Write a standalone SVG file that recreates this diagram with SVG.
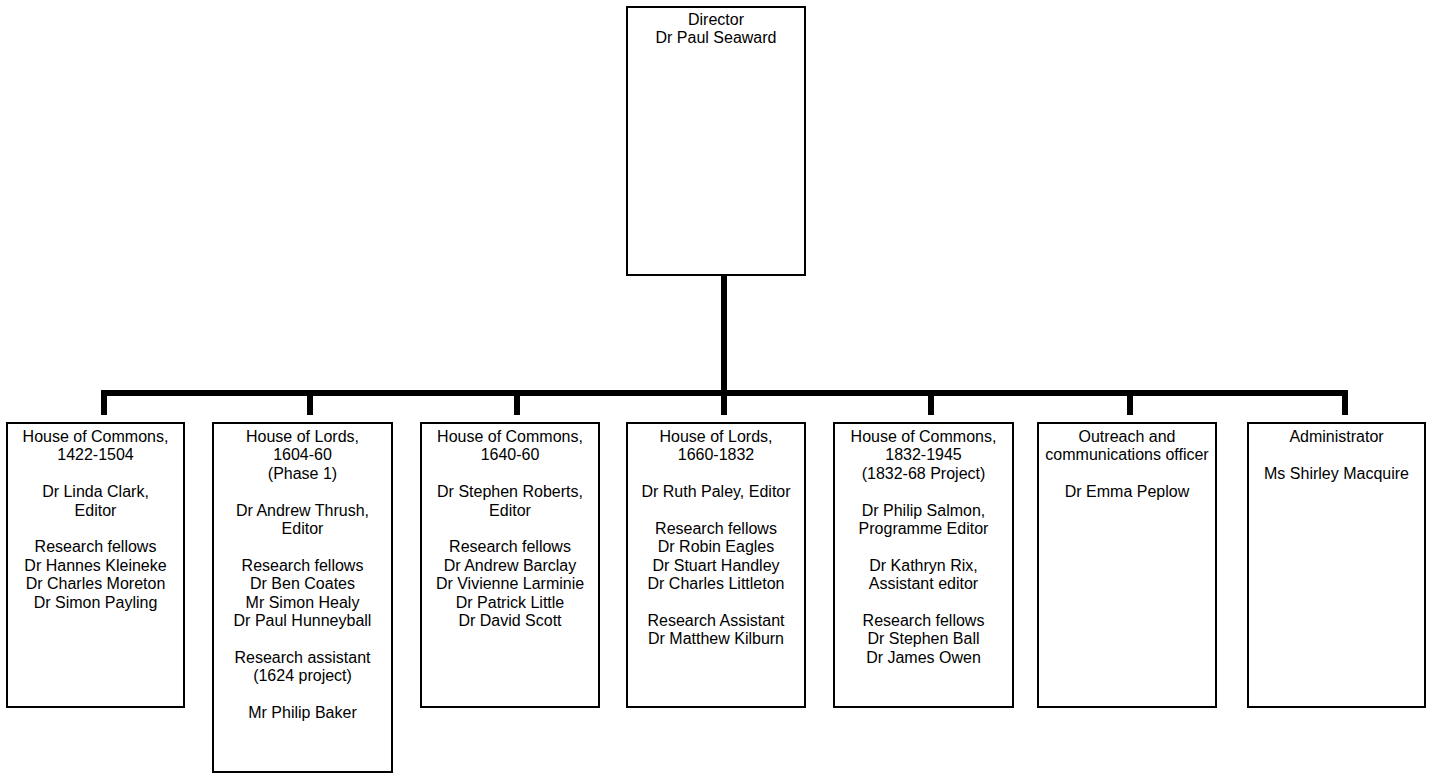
<svg xmlns="http://www.w3.org/2000/svg" width="1432" height="776" viewBox="0 0 1432 776">
<style>
.box{fill:#fff;stroke:#000;stroke-width:2}
.t{font-family:"Liberation Sans",Arial,sans-serif;font-size:16px;fill:#000;text-anchor:middle}
.c{fill:none;stroke:#000;stroke-width:6;stroke-linejoin:miter}
</style>
<rect width="1432" height="776" fill="#fff"/>
<g id="connectors">
<path class="c" d="M724 275 V393"/>
<path class="c" d="M104 415 V393 H1345 V415"/>
<path class="c" d="M310 393 V415"/>
<path class="c" d="M517 393 V415"/>
<path class="c" d="M724 393 V415"/>
<path class="c" d="M931 393 V415"/>
<path class="c" d="M1130 393 V415"/>
</g>
<g id="director">
<rect class="box" x="627" y="7" width="178" height="268"/>
<text class="t" x="716" y="25"><tspan x="716">Director</tspan><tspan x="716" dy="18.4">Dr Paul Seaward</tspan></text>
</g>
<g id="commons-1422">
<rect class="box" x="7" y="423" width="177" height="284"/>
<text class="t" x="95.5" y="442"><tspan x="95.5">House of Commons,</tspan><tspan x="95.5" dy="18.4">1422-1504</tspan><tspan x="95.5" dy="36.8">Dr Linda Clark,</tspan><tspan x="95.5" dy="18.4">Editor</tspan><tspan x="95.5" dy="36.8">Research fellows</tspan><tspan x="95.5" dy="18.4">Dr Hannes Kleineke</tspan><tspan x="95.5" dy="18.4">Dr Charles Moreton</tspan><tspan x="95.5" dy="18.4">Dr Simon Payling</tspan></text>
</g>
<g id="lords-1604">
<rect class="box" x="213" y="423" width="179" height="349"/>
<text class="t" x="302.5" y="442"><tspan x="302.5">House of Lords,</tspan><tspan x="302.5" dy="18.4">1604-60</tspan><tspan x="302.5" dy="18.4">(Phase 1)</tspan><tspan x="302.5" dy="36.8">Dr Andrew Thrush,</tspan><tspan x="302.5" dy="18.4">Editor</tspan><tspan x="302.5" dy="36.8">Research fellows</tspan><tspan x="302.5" dy="18.4">Dr Ben Coates</tspan><tspan x="302.5" dy="18.4">Mr Simon Healy</tspan><tspan x="302.5" dy="18.4">Dr Paul Hunneyball</tspan><tspan x="302.5" dy="36.8">Research assistant</tspan><tspan x="302.5" dy="18.4">(1624 project)</tspan><tspan x="302.5" dy="36.8">Mr Philip Baker</tspan></text>
</g>
<g id="commons-1640">
<rect class="box" x="421" y="423" width="178" height="284"/>
<text class="t" x="510" y="442"><tspan x="510">House of Commons,</tspan><tspan x="510" dy="18.4">1640-60</tspan><tspan x="510" dy="36.8">Dr Stephen Roberts,</tspan><tspan x="510" dy="18.4">Editor</tspan><tspan x="510" dy="36.8">Research fellows</tspan><tspan x="510" dy="18.4">Dr Andrew Barclay</tspan><tspan x="510" dy="18.4">Dr Vivienne Larminie</tspan><tspan x="510" dy="18.4">Dr Patrick Little</tspan><tspan x="510" dy="18.4">Dr David Scott</tspan></text>
</g>
<g id="lords-1660">
<rect class="box" x="627" y="423" width="178" height="284"/>
<text class="t" x="716" y="442"><tspan x="716">House of Lords,</tspan><tspan x="716" dy="18.4">1660-1832</tspan><tspan x="716" dy="36.8">Dr Ruth Paley, Editor</tspan><tspan x="716" dy="36.8">Research fellows</tspan><tspan x="716" dy="18.4">Dr Robin Eagles</tspan><tspan x="716" dy="18.4">Dr Stuart Handley</tspan><tspan x="716" dy="18.4">Dr Charles Littleton</tspan><tspan x="716" dy="36.8">Research Assistant</tspan><tspan x="716" dy="18.4">Dr Matthew Kilburn</tspan></text>
</g>
<g id="commons-1832">
<rect class="box" x="834" y="423" width="179" height="284"/>
<text class="t" x="923.5" y="442"><tspan x="923.5">House of Commons,</tspan><tspan x="923.5" dy="18.4">1832-1945</tspan><tspan x="923.5" dy="18.4">(1832-68 Project)</tspan><tspan x="923.5" dy="36.8">Dr Philip Salmon,</tspan><tspan x="923.5" dy="18.4">Programme Editor</tspan><tspan x="923.5" dy="36.8">Dr Kathryn Rix,</tspan><tspan x="923.5" dy="18.4">Assistant editor</tspan><tspan x="923.5" dy="36.8">Research fellows</tspan><tspan x="923.5" dy="18.4">Dr Stephen Ball</tspan><tspan x="923.5" dy="18.4">Dr James Owen</tspan></text>
</g>
<g id="outreach">
<rect class="box" x="1038" y="423" width="178" height="284"/>
<text class="t" x="1127" y="442"><tspan x="1127">Outreach and</tspan><tspan x="1127" dy="18.4">communications officer</tspan><tspan x="1127" dy="36.8">Dr Emma Peplow</tspan></text>
</g>
<g id="administrator">
<rect class="box" x="1248" y="423" width="177" height="284"/>
<text class="t" x="1336.5" y="442"><tspan x="1336.5">Administrator</tspan><tspan x="1336.5" dy="36.8">Ms Shirley Macquire</tspan></text>
</g>
</svg>
